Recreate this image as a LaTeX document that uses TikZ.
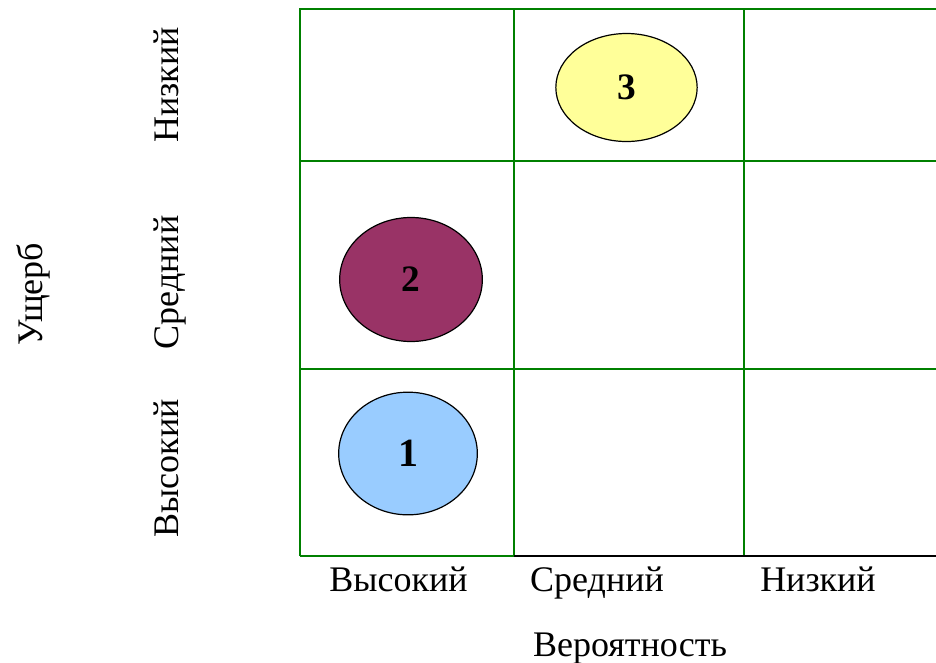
\documentclass[tikz,border=0pt]{standalone}
\usepackage{fontspec}
\setmainfont{Liberation Serif}
\usetikzlibrary{shapes.geometric}
\definecolor{gridgreen}{HTML}{008000}
\definecolor{riskblue}{HTML}{99CCFF}
\definecolor{riskred}{HTML}{993366}
\definecolor{riskyellow}{HTML}{FFFF99}
\begin{document}
\begin{tikzpicture}[x=0.75pt, y=-0.75pt,
    cell/.style={gridgreen, line width=1.5pt},
    risk/.style={ellipse, draw=black, line width=0.9pt, inner sep=0pt, font=\bfseries\fontsize{28}{30}\selectfont},
    axislabel/.style={anchor=base, font=\fontsize{27}{30}\selectfont}]
        \useasboundingbox (0, 0) rectangle (936, 662);
        \draw [cell] (300, 556) -- (300, 9) -- (936, 9);
        \draw [cell] (514, 9) -- (514, 556);
        \draw [cell] (744, 9) -- (744, 556);
        \draw [cell] (300, 161) -- (936, 161);
        \draw [cell] (300, 369) -- (936, 369);
        \draw [cell] (300, 556) -- (514, 556);
        \draw [black, line width=1.5pt] (514, 556) -- (936, 556);
        \node [risk, fill=riskyellow, minimum width=106pt, minimum height=81pt] (r3) at (626.5, 87.5) {3};
        \node [risk, fill=riskred, minimum width=107pt, minimum height=93pt] (r2) at (411, 279.5) {2};
        \node [risk, fill=riskblue, minimum width=104pt, minimum height=92pt, font=\bfseries\fontsize{30}{34}\selectfont] (r1) at (408, 453.5) {1};
        \node [axislabel] (px1) at (398.5, 591) {Высокий};
        \node [axislabel] (px2) at (597, 591) {Средний};
        \node [axislabel] (px3) at (818, 591) {Низкий};
        \node [axislabel] (pname) at (630, 656) {Вероятность};
        \node [axislabel, rotate=90] (dy3) at (178, 85) {Низкий};
        \node [axislabel, rotate=90] (dy2) at (178, 282.5) {Средний};
        \node [axislabel, rotate=90] (dy1) at (178, 468.5) {Высокий};
        \node [axislabel, rotate=90] (dname) at (42, 294) {Ущерб};
    \end{tikzpicture}
\end{document}
